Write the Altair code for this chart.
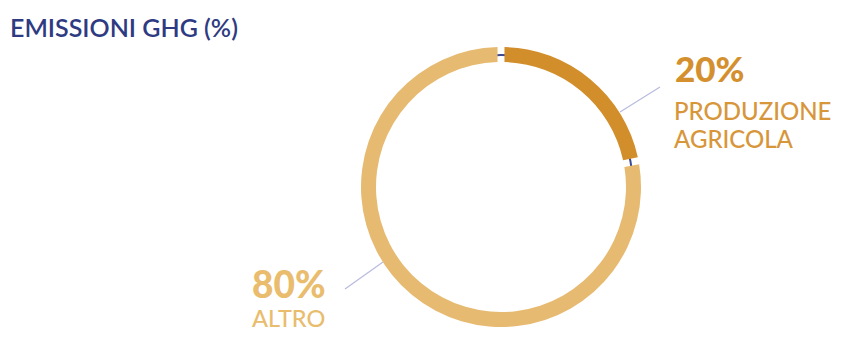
import altair as alt
import pandas as pd

# ---- data ----
title_text = "EMISSIONI GHG (%)"
categories = ["PRODUZIONE AGRICOLA", "ALTRO"]
pct_labels = ["20%", "80%"]
label_lines = [["PRODUZIONE", "AGRICOLA"], ["ALTRO"]]
ring_share = [22, 78]          # share of the ring as drawn
ring_colors = ["#D38E2C", "#E7BA71"]

FONT = "Lato"
CX, CY = 493, 179
R_OUT, R_IN = 140, 125

ring_df = pd.DataFrame({"category": categories, "share": ring_share, "order": [0, 1]})

sep = alt.Chart(pd.DataFrame({"k": [0]})).mark_arc(
    innerRadius=131, outerRadius=133, color="#3C4A94", x=CX, y=CY
).encode(theta=alt.value(0), theta2=alt.value(6.2832))

ring = alt.Chart(ring_df).mark_arc(
    innerRadius=R_IN, outerRadius=R_OUT, padAngle=0.037, x=CX, y=CY
).encode(
    theta=alt.Theta("share:Q", stack=True),
    order=alt.Order("order:Q"),
    color=alt.Color("category:N", scale=alt.Scale(domain=categories, range=ring_colors), legend=None),
)

def rule(x1, y1, x2, y2):
    return alt.Chart(pd.DataFrame({"k": [0]})).mark_rule(color="#B7BBDF", strokeWidth=1.2).encode(
        x=alt.value(x1), y=alt.value(y1), x2=alt.value(x2), y2=alt.value(y2)
    )

def txt(s, x, y, size, color, weight):
    return alt.Chart(pd.DataFrame({"t": [s]})).mark_text(
        align="left", baseline="alphabetic", font=FONT, fontSize=size, color=color, fontWeight=weight
    ).encode(text="t:N", x=alt.value(x), y=alt.value(y))

layers = [
    sep, ring,
    rule(612, 104, 652, 79),
    rule(375, 254, 337, 281),
    txt(title_text, 2, 29, 25, "#2E3B82", 600),
    txt(pct_labels[0], 667, 74, 35, "#D4902E", 900),
    txt(label_lines[0][0], 666, 112, 24, "#D8963A", 500),
    txt(label_lines[0][1], 666, 140, 24, "#D8963A", 500),
    txt(pct_labels[1], 244, 290, 37, "#E9BC6E", 900),
    txt(label_lines[1][0], 244, 319, 23.5, "#E9BC6E", 500),
]

chart = alt.layer(*layers).properties(
    width=826, height=324, autosize=alt.AutoSizeParams(type="none"), padding=0
).configure_view(stroke=None)

chart.save("out.html", embed_options={"renderer": "svg", "actions": False})
